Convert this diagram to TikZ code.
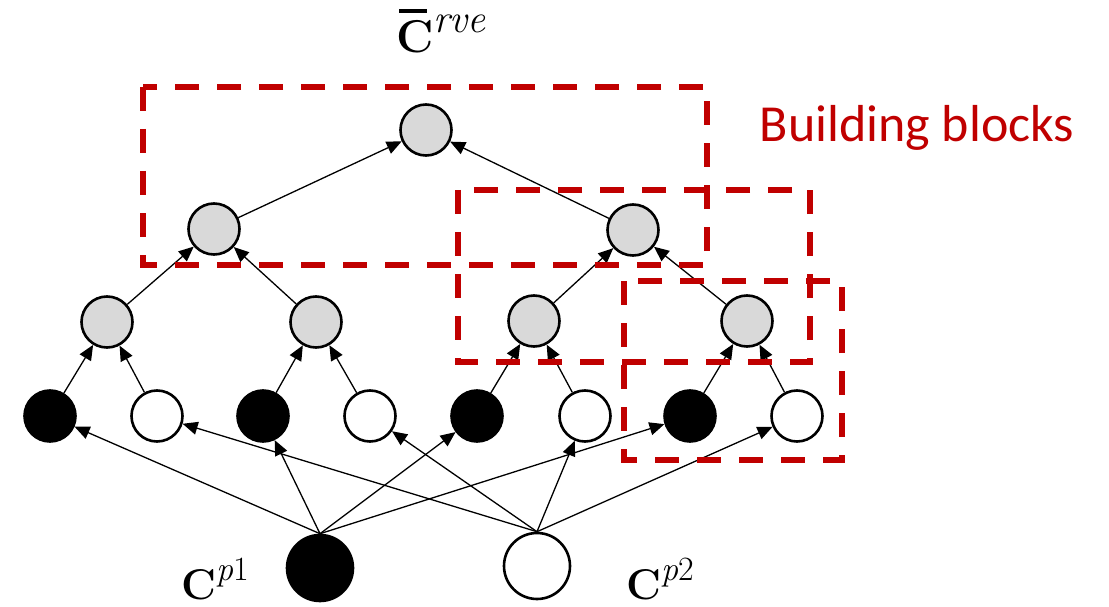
\documentclass[tikz,border=0pt]{standalone}
\usepackage{fontspec}
\newfontfamily\calib{Carlito}
\usetikzlibrary{arrows.meta}
\definecolor{bbred}{HTML}{C00000}
\definecolor{nodegray}{HTML}{D9D9D9}
\tikzset{
  nd/.style={circle,draw=black,line width=2.6pt,minimum size=51pt,inner sep=0pt},
  gnode/.style={nd,fill=nodegray},
  bnode/.style={nd,fill=black},
  wnode/.style={nd,fill=white},
  big/.style={circle,draw=black,line width=2.6pt,minimum size=66pt,inner sep=0pt},
  conn/.style={line width=1.3pt,-{Triangle[length=15pt,width=13pt]}},
  blockbox/.style={draw=bbred,line width=5.5pt,dash pattern=on 24pt off 18pt},
  lbl/.style={anchor=base,inner sep=0pt},
}
\begin{document}
\begin{tikzpicture}[x=1pt,y=-1pt]
\useasboundingbox (0,0) rectangle (1109,607);
% nodes
\node[gnode] (t) at (426,130) {};
\node[gnode] (a1) at (214,229) {};
\node[gnode] (a2) at (633,230) {};
\node[gnode] (b1) at (107,322) {};
\node[gnode] (b2) at (316,322) {};
\node[gnode] (b3) at (534,321) {};
\node[gnode] (b4) at (747,321) {};
\node[bnode] (l1) at (50,416) {};
\node[wnode] (l2) at (157,416) {};
\node[bnode] (l3) at (263,416) {};
\node[wnode] (l4) at (370,416) {};
\node[bnode] (l5) at (477,416) {};
\node[wnode] (l6) at (585,416) {};
\node[bnode] (l7) at (690,416) {};
\node[wnode] (l8) at (797,416) {};
\node[big,fill=black] (p1) at (320,568) {};
\node[big,fill=white] (p2) at (537,566) {};
% tree connectors
\draw[conn] (a1) -- (t);
\draw[conn] (a2) -- (t);
\draw[conn] (b1) -- (a1);
\draw[conn] (b2) -- (a1);
\draw[conn] (b3) -- (a2);
\draw[conn] (b4) -- (a2);
\draw[conn] (l1) -- (b1);
\draw[conn] (l2) -- (b1);
\draw[conn] (l3) -- (b2);
\draw[conn] (l4) -- (b2);
\draw[conn] (l5) -- (b3);
\draw[conn] (l6) -- (b3);
\draw[conn] (l7) -- (b4);
\draw[conn] (l8) -- (b4);
% bottom connectors
\draw[conn] (p1.north) -- (l1);
\draw[conn] (p1.north) -- (l3);
\draw[conn] (p1.north) -- (l5);
\draw[conn] (p1.north) -- (l7);
\draw[conn] (p2.north) -- (l2);
\draw[conn] (p2.north) -- (l4);
\draw[conn] (p2.north) -- (l6);
\draw[conn] (p2.north) -- (l8);
% building block boxes
\draw[blockbox] (143,87) rectangle (707,265);
\draw[blockbox] (458,190) rectangle (810,362);
\draw[blockbox] (624,281) rectangle (842,460);
% labels
\node[lbl] (crve) at (441,53) {\fontsize{46}{52}\selectfont\bfseries\rlap{\hspace{3pt}\raisebox{40pt}{\rule{28pt}{4pt}}}C\raisebox{20pt}{\fontsize{40}{44}\selectfont\mdseries\itshape rve}};
\node[lbl] (cp1) at (215,599) {\fontsize{43}{48}\selectfont\bfseries C\raisebox{19pt}{\fontsize{34}{38}\selectfont\mdseries\itshape p\upshape 1}};
\node[lbl] (cp2) at (660,599) {\fontsize{43}{48}\selectfont\bfseries C\raisebox{19pt}{\fontsize{34}{38}\selectfont\mdseries\itshape p\upshape 2}};
\node[lbl,text=bbred,font=\calib\fontsize{52}{60}\selectfont] (bb) at (917,142) {Building blocks};
\end{tikzpicture}
\end{document}
